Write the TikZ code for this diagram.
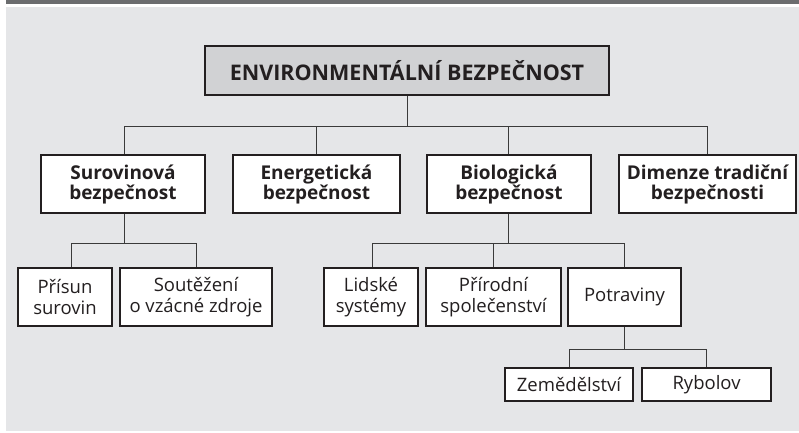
\documentclass[tikz,border=0pt]{standalone}
\usepackage{fontspec}
\setmainfont{Open Sans}
\usepackage{xcolor}

\definecolor{bggray}{HTML}{E5E6E8}
\definecolor{bargray}{HTML}{6B6C6E}
\definecolor{rootgray}{HTML}{D1D2D4}
\definecolor{boxline}{HTML}{231F20}
\definecolor{linkgray}{HTML}{3A3A3A}

\tikzset{
  box/.style={draw=boxline, line width=2pt, fill=white, align=center,
    inner sep=0pt, text=boxline},
  rootbox/.style={box, fill=rootgray, font=\bfseries\fontsize{21.5}{24}\selectfont,
    minimum width=404, minimum height=49},
  mainbox/.style={box, font=\bfseries\fontsize{19}{20}\selectfont, minimum height=58},
  subbox/.style={box, font=\fontsize{18.5}{21}\selectfont, minimum height=58},
  leafbox/.style={box, font=\fontsize{18.5}{21}\selectfont, minimum height=33},
  link/.style={draw=linkgray, line width=1pt},
}

\begin{document}
\begin{tikzpicture}[x=1pt,y=1pt]
    % frame
    \useasboundingbox (0,0) rectangle (799,-432);
    \fill[bargray] (6,0) rectangle (799,-4);
    \fill[bggray] (6,-7) rectangle (799,-431);

    \node(root)[rootbox] at (407,-70.5) {ENVIRONMENTÁLNÍ BEZPEČNOST};

    \node(suro)[mainbox, minimum width=164] at (123,-184) {Surovinová\\bezpečnost};
    \node(ener)[mainbox, minimum width=167] at (316.5,-184) {Energetická\\bezpečnost};
    \node(bio)[mainbox, minimum width=164] at (509,-184) {Biologická\\bezpečnost};
    \node(dim)[mainbox, minimum width=177] at (707.5,-184) {Dimenze tradiční\\bezpečnosti};

    \node(prisun)[subbox, minimum width=94] at (65,-297) {Přísun\\surovin};
    \node(soutez)[subbox, minimum width=152] at (196,-297) {Soutěžení\\o vzácné zdroje};
    \node(lidske)[subbox, minimum width=94] at (371,-297) {Lidské\\systémy};
    \node(prirod)[subbox, minimum width=135] at (493.5,-297) {Přírodní\\společenství};
    \node(potrav)[subbox, minimum width=113] at (624.5,-297) {Potraviny};

    \node(zemed)[leafbox, minimum width=128] at (569,-384.5) {Zemědělství};
    \node(rybol)[leafbox, minimum width=129] at (706.5,-384.5) {Rybolov};

    % connectors
    \draw[link] (root.south) -- ++(0,-30) -| ([xshift=1]suro.north);
    \draw[link] (root.south) -- ++(0,-30) -| (ener.north);
    \draw[link] (root.south) -- ++(0,-30) -| ([xshift=-1]bio.north);
    \draw[link] (root.south) -- ++(0,-30) -| (dim.north);

    \draw[link] ([xshift=1]suro.south) -- ++(0,-29) -| ([xshift=6]prisun.north);
    \draw[link] ([xshift=1]suro.south) -- ++(0,-29) -| (soutez.north);

    \draw[link] ([xshift=-1]bio.south) -- ++(0,-29) -| ([xshift=1]lidske.north);
    \draw[link] ([xshift=-1]bio.south) -- ++(0,-29) -| (prirod.north);
    \draw[link] ([xshift=-1]bio.south) -- ++(0,-29) -| (potrav.north);

    \draw[link] (potrav.south) -- ++(0,-22) -| (zemed.north);
    \draw[link] (potrav.south) -- ++(0,-22) -| (rybol.north);
\end{tikzpicture}
\end{document}
